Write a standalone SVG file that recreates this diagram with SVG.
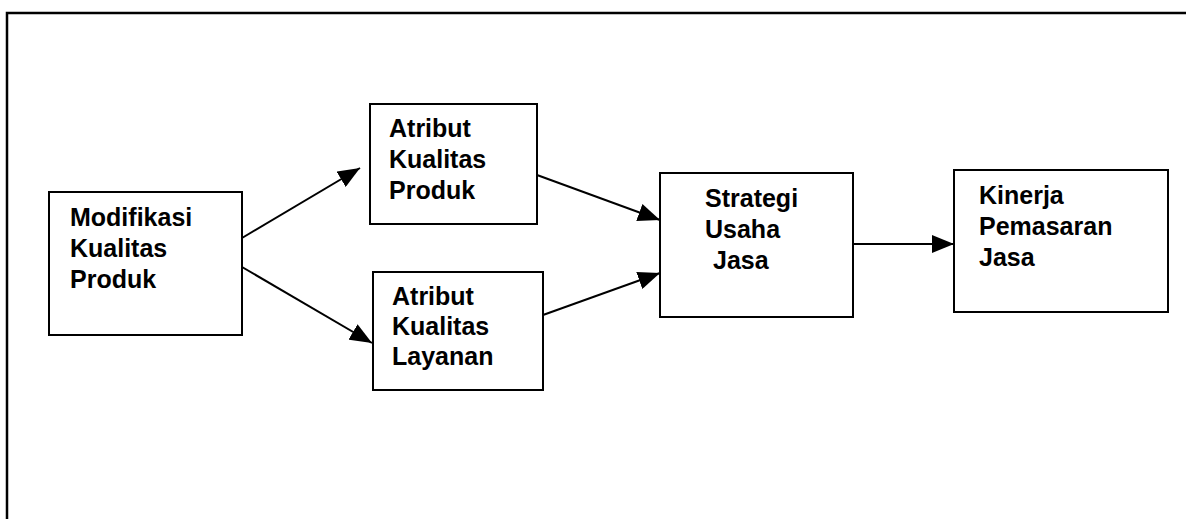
<svg xmlns="http://www.w3.org/2000/svg" width="1186" height="519" viewBox="0 0 1186 519">
  <style>
    .box { fill: #ffffff; stroke: #000000; stroke-width: 2; }
    .frame { fill: none; stroke: #000000; stroke-width: 2.5; }
    .label { font-family: "Liberation Sans", Arial, sans-serif; font-weight: bold; font-size: 25px; fill: #000000; }
    .conn { fill: none; stroke: #000000; stroke-width: 2; marker-end: url(#arrow); }
  </style>
  <defs>
    <marker id="arrow" viewBox="0 0 22 18" refX="22" refY="9" markerWidth="22" markerHeight="18" markerUnits="userSpaceOnUse" orient="auto">
      <path d="M0,0 L22,9 L0,18 Z" fill="#000000"/>
    </marker>
  </defs>
  <rect width="1186" height="519" fill="#ffffff"/>

  <!-- outer frame: top and left edges -->
  <path class="frame" d="M7,519 L7,13 L1186,13"/>

  <g id="connectors">
    <line class="conn" x1="242" y1="238" x2="360" y2="168"/>
    <line class="conn" x1="242" y1="267" x2="372" y2="343"/>
    <line class="conn" x1="537" y1="175" x2="660" y2="220"/>
    <line class="conn" x1="543" y1="315" x2="660" y2="273"/>
    <line class="conn" x1="853" y1="244" x2="954" y2="244"/>
  </g>

  <g id="modifikasi">
    <rect class="box" x="49" y="192" width="193" height="143"/>
    <text class="label" x="70" y="226">Modifikasi</text>
    <text class="label" x="70" y="257">Kualitas</text>
    <text class="label" x="70" y="288">Produk</text>
  </g>

  <g id="atribut-produk">
    <rect class="box" x="370" y="104" width="167" height="120"/>
    <text class="label" x="389" y="137">Atribut</text>
    <text class="label" x="389" y="168">Kualitas</text>
    <text class="label" x="389" y="199">Produk</text>
  </g>

  <g id="atribut-layanan">
    <rect class="box" x="373" y="272" width="170" height="118"/>
    <text class="label" x="392" y="305">Atribut</text>
    <text class="label" x="392" y="335">Kualitas</text>
    <text class="label" x="392" y="365">Layanan</text>
  </g>

  <g id="strategi">
    <rect class="box" x="660" y="173" width="193" height="144"/>
    <text class="label" x="705" y="207">Strategi</text>
    <text class="label" x="705" y="238">Usaha</text>
    <text class="label" x="713" y="269">Jasa</text>
  </g>

  <g id="kinerja">
    <rect class="box" x="954" y="170" width="214" height="142"/>
    <text class="label" x="979" y="204">Kinerja</text>
    <text class="label" x="979" y="235">Pemasaran</text>
    <text class="label" x="979" y="266">Jasa</text>
  </g>
</svg>
